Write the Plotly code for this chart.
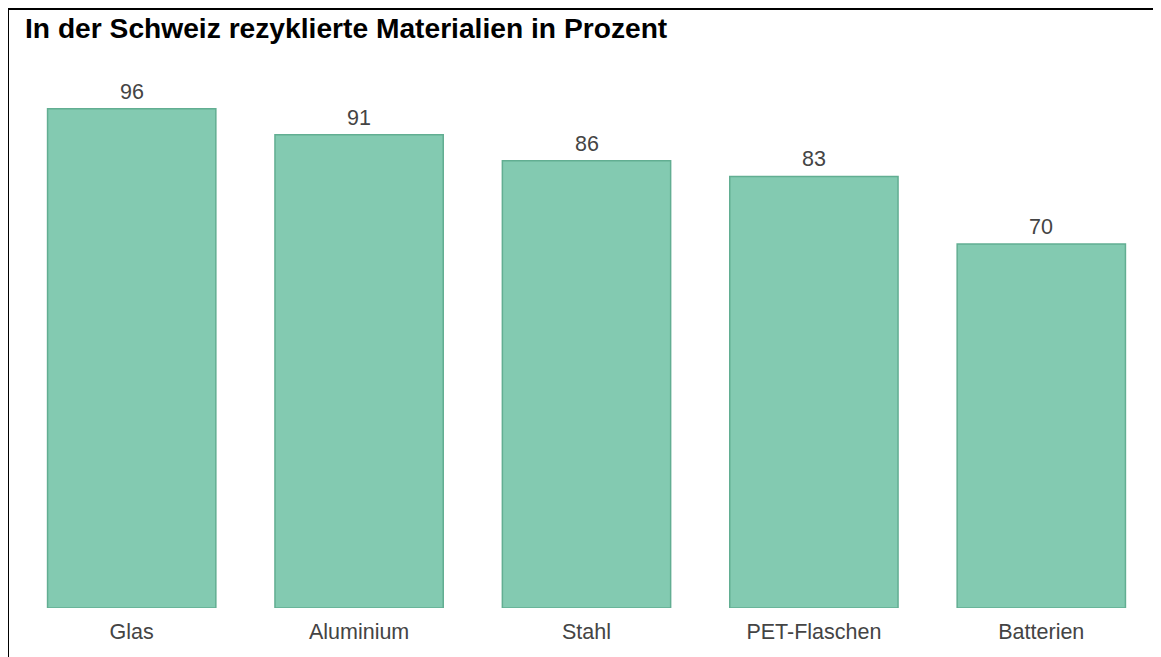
import plotly.graph_objects as go

categories = ["Glas", "Aluminium", "Stahl", "PET-Flaschen", "Batterien"]
values = [96, 91, 86, 83, 70]
title = "In der Schweiz rezyklierte Materialien in Prozent"

W, H = 1161, 657
ml, mr, mt, mb = 10, 14, 80, 57
pw, ph = W - ml - mr, H - mt - mb
FONT = "Liberation Sans, Arial, sans-serif"

def px_x(x):
    return (x - ml) / pw

def px_y(y):
    return (H - mb - y) / ph

fig = go.Figure(go.Bar(
    x=categories, y=values,
    marker=dict(color="#83cab1", line=dict(color="#62ae92", width=1.5)),
    hoverinfo="x+y",
))

for c, v in zip(categories, values):
    fig.add_annotation(x=c, y=v, text=str(v), showarrow=False,
                       yanchor="middle", yshift=17,
                       font=dict(family=FONT, size=21.5, color="#444444"))

fig.update_layout(
    width=W, height=H,
    margin=dict(l=ml, r=mr, t=mt, b=mb),
    paper_bgcolor="white", plot_bgcolor="white",
    bargap=0.26,
    showlegend=False,
    title=dict(text="<b>" + title + "</b>", x=17 / W, xanchor="left",
               y=1 - 20 / H, yanchor="middle",
               font=dict(family=FONT, size=28.2, color="black")),
    xaxis=dict(showline=False, showgrid=False, ticks="", ticklabelstandoff=8,
               tickfont=dict(family=FONT, size=21.5, color="#444444")),
    yaxis=dict(range=[0, 100], visible=False),
    shapes=[
        dict(type="line", xref="paper", yref="paper", x0=px_x(0), x1=px_x(W + 5),
             y0=px_y(1), y1=px_y(1), line=dict(color="black", width=2)),
        dict(type="line", xref="paper", yref="paper", x0=px_x(0), x1=px_x(0),
             y0=px_y(1), y1=px_y(H + 5), line=dict(color="black", width=2)),
    ],
)

fig.write_html("out.html")
